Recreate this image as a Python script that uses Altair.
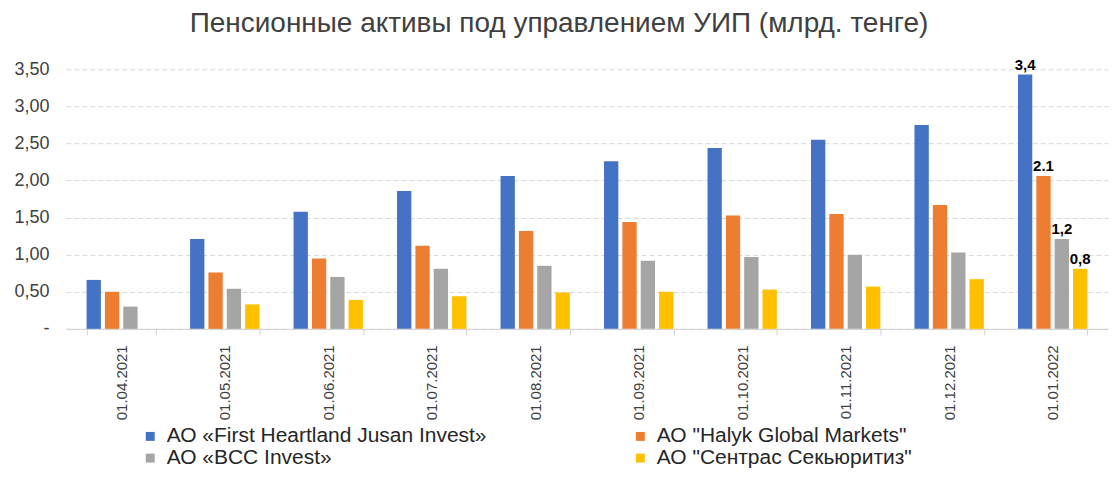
import altair as alt
import pandas as pd

dates = ["01.04.2021", "01.05.2021", "01.06.2021", "01.07.2021", "01.08.2021",
         "01.09.2021", "01.10.2021", "01.11.2021", "01.12.2021", "01.01.2022"]
companies = ['АО «First Heartland Jusan Invest»', 'АО "Halyk Global Markets"',
             'АО «BCC Invest»', 'АО "Сентрас Секьюритиз"']
colors = ["#4472C4", "#ED7D31", "#A5A5A5", "#FFC000"]
# legend order (filled column by column): Jusan, BCC | Halyk, Sentras
legend_order = [companies[0], companies[2], companies[1], companies[3]]
legend_colors = [colors[0], colors[2], colors[1], colors[3]]

jusan = [0.66, 1.21, 1.58, 1.86, 2.06, 2.26, 2.44, 2.55, 2.75, 3.43]
halyk = [0.50, 0.76, 0.95, 1.12, 1.32, 1.44, 1.53, 1.55, 1.67, 2.06]
bcc = [0.30, 0.54, 0.70, 0.81, 0.85, 0.92, 0.97, 1.00, 1.03, 1.21]
sentras = [None, 0.33, 0.39, 0.44, 0.49, 0.50, 0.53, 0.57, 0.67, 0.81]

y_ticks = [0, 0.5, 1, 1.5, 2, 2.5, 3, 3.5]
last_labels = ["3,4", "2.1", "1,2", "0,8"]

rows = []
for comp, series, lab in zip(companies, [jusan, halyk, bcc, sentras], last_labels):
    for d, v in zip(dates, series):
        if v is not None:
            rows.append({"date": d, "company": comp, "value": v,
                         "label": lab if d == dates[-1] else ""})
df = pd.DataFrame(rows)

FONT = "Liberation Sans, Arial, sans-serif"

base = alt.Chart(df).encode(
    x=alt.X("date:N", sort=dates, title=None,
            scale=alt.Scale(paddingInner=0.33, paddingOuter=0.2),
            axis=alt.Axis(labelAngle=270, labelFontSize=15, labelColor="#404040",
                          labelFont=FONT, labelPadding=10,
                          domainColor="#d0d0d0", tickColor="#d0d0d0",
                          tickBand="extent", tickSize=6, grid=False)),
    xOffset=alt.XOffset("company:N", sort=companies,
                        scale=alt.Scale(paddingInner=0.22)),
    y=alt.Y("value:Q", title=None,
            scale=alt.Scale(domain=[0, 3.5], nice=False),
            axis=alt.Axis(values=y_ticks,
                          labelExpr="datum.value == 0 ? '-' : replace(format(datum.value, '.2f'), '.', ',')",
                          labelFontSize=18, labelColor="#404040", labelFont=FONT,
                          labelPadding=17, labelOverlap=False, domain=False, ticks=False,
                          grid=True, gridColor="#d9d9d9", gridDash=[5, 3])),
)

bars = base.mark_bar().encode(
    color=alt.Color("company:N",
                    scale=alt.Scale(domain=legend_order, range=legend_colors),
                    legend=alt.Legend(title=None, orient="none", legendX=74, legendY=357,
                                      columns=2, columnPadding=143, rowPadding=0,
                                      symbolType="square", symbolSize=80,
                                      symbolStrokeWidth=0,
                                      labelFontSize=21, labelFont=FONT,
                                      labelColor="#262626", labelLimit=600, labelOffset=6)),
)

labels = base.transform_filter(alt.datum.label != "").mark_text(
    baseline="bottom", dy=-2, fontSize=15, fontWeight="bold", font=FONT, color="#000000"
).encode(text="label:N")

chart = alt.layer(bars, labels).properties(
    width=1044, height=260,
    background="white",
    autosize=alt.AutoSizeParams(type="none"),
    padding={"left": 58, "top": 61, "right": 4, "bottom": 150},
    title=alt.TitleParams("Пенсионные активы под управлением УИП (млрд. тенге)",
                          fontSize=28, font=FONT, fontWeight="normal", color="#404040",
                          anchor="middle", dx=-28, offset=20),
).configure_view(strokeWidth=0)

chart.save("out.html", embed_options={"renderer": "svg", "actions": False})
